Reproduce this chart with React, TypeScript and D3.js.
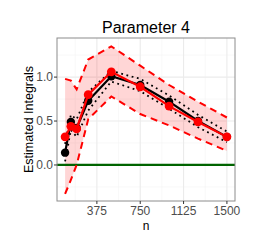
import * as d3 from "d3";

// sample sizes on the x axis
const nValues = [100, 150, 200, 300, 500, 750, 1000, 1250, 1500];
// black estimate + its dotted band
const blackEst = [0.14, 0.49, 0.42, 0.73, 1.01, 0.91, 0.72, 0.5, 0.32];
const blackUpper = [0.24, 0.57, 0.52, 0.83, 1.07, 0.98, 0.79, 0.57, 0.38];
const blackLower = [0.04, 0.4, 0.32, 0.62, 0.95, 0.84, 0.64, 0.43, 0.26];
// red estimate + its dashed band
const redEst = [0.32, 0.44, 0.41, 0.8, 1.06, 0.89, 0.67, 0.49, 0.32];
const redUpper = [0.98, 0.96, 0.86, 1.2, 1.35, 1.13, 0.91, 0.72, 0.54];
const redLower = [-0.33, -0.17, 0.0, 0.52, 0.78, 0.58, 0.45, 0.3, 0.16];

const xTicks = [375, 750, 1125, 1500];
const yTicks = [0, 0.5, 1];
const refLine = 0;

const W = 266;
const H = 252;
const panel = { left: 57, right: 235, top: 38, bottom: 201 };
const font = "'Liberation Sans', Arial, sans-serif";

export default function App() {
  const x = d3.scaleLinear().domain([30, 1570]).range([panel.left, panel.right]);
  const y = d3.scaleLinear().domain([-0.41, 1.445]).range([panel.bottom, panel.top]);

  const pts = (vals: number[]) => vals.map((v, i) => [nValues[i], v] as [number, number]);
  const line = d3
    .line<[number, number]>()
    .x((d) => x(d[0]))
    .y((d) => y(d[1]));
  const band = d3
    .area<number>()
    .x((_, i) => x(nValues[i]))
    .y0((_, i) => y(redLower[i]))
    .y1((d) => y(d));

  const xMinor = [0, ...xTicks].slice(0, -1).map((t, i) => (t + xTicks[i]) / 2);
  const yMinor = [-0.5, ...yTicks].map((t, i) => (i < yTicks.length ? (t + yTicks[i]) / 2 : t + 0.25));

  return (
    <svg
      width={W}
      height={H}
      style={{ position: "absolute", left: 0, top: 0, background: "#fff" }}
      fontFamily={font}
    >
      <defs>
        <clipPath id="panel-clip">
          <rect x={panel.left} y={panel.top} width={panel.right - panel.left} height={panel.bottom - panel.top} />
        </clipPath>
      </defs>
      <rect x={panel.left} y={panel.top} width={panel.right - panel.left} height={panel.bottom - panel.top} fill="#fff" />

      {/* grid */}
      <g stroke="#f3f3f3" strokeWidth={0.6}>
        {xMinor.map((t) => (
          <line key={"xm" + t} x1={x(t)} x2={x(t)} y1={panel.top} y2={panel.bottom} />
        ))}
        {yMinor.map((t) => (
          <line key={"ym" + t} x1={panel.left} x2={panel.right} y1={y(t)} y2={y(t)} />
        ))}
      </g>
      <g stroke="#ebebeb" strokeWidth={1.1}>
        {xTicks.map((t) => (
          <line key={"xg" + t} x1={x(t)} x2={x(t)} y1={panel.top} y2={panel.bottom} />
        ))}
        {yTicks.map((t) => (
          <line key={"yg" + t} x1={panel.left} x2={panel.right} y1={y(t)} y2={y(t)} />
        ))}
      </g>

      <g clipPath="url(#panel-clip)">
        <path d={band(redUpper) || ""} fill="rgba(255,0,0,0.16)" />
        <line x1={panel.left} x2={panel.right} y1={y(refLine)} y2={y(refLine)} stroke="#006400" strokeWidth={2.2} />
        <path d={line(pts(redUpper)) || ""} fill="none" stroke="#ff0000" strokeWidth={2} strokeDasharray="7,5" />
        <path d={line(pts(redLower)) || ""} fill="none" stroke="#ff0000" strokeWidth={2} strokeDasharray="7,5" />
        <path d={line(pts(blackUpper)) || ""} fill="none" stroke="#000" strokeWidth={1.8} strokeDasharray="1.8,3.6" />
        <path d={line(pts(blackLower)) || ""} fill="none" stroke="#000" strokeWidth={1.8} strokeDasharray="1.8,3.6" />
        <path d={line(pts(blackEst)) || ""} fill="none" stroke="#000" strokeWidth={2.2} />
        {blackEst.map((v, i) => (
          <circle key={"b" + i} cx={x(nValues[i])} cy={y(v)} r={4.2} fill="#000" />
        ))}
        <path d={line(pts(redEst)) || ""} fill="none" stroke="#ff0000" strokeWidth={2.2} />
        {redEst.map((v, i) => (
          <circle key={"r" + i} cx={x(nValues[i])} cy={y(v)} r={4.4} fill="#ff0000" />
        ))}
      </g>

      <rect
        x={panel.left}
        y={panel.top}
        width={panel.right - panel.left}
        height={panel.bottom - panel.top}
        fill="none"
        stroke="#8c8c8c"
        strokeWidth={1}
      />

      {/* axes */}
      <g stroke="#333" strokeWidth={1}>
        {xTicks.map((t) => (
          <line key={"xt" + t} x1={x(t)} x2={x(t)} y1={panel.bottom} y2={panel.bottom + 3} />
        ))}
        {yTicks.map((t) => (
          <line key={"yt" + t} x1={panel.left - 3} x2={panel.left} y1={y(t)} y2={y(t)} />
        ))}
      </g>
      <g fontSize={12} fill="#4d4d4d">
        {xTicks.map((t) => (
          <text key={"xl" + t} x={x(t)} y={215} textAnchor="middle">
            {t}
          </text>
        ))}
        {yTicks.map((t) => (
          <text key={"yl" + t} x={panel.left - 4} y={y(t) + 4.3} textAnchor="end">
            {d3.format(".1f")(t)}
          </text>
        ))}
      </g>

      <text x={(panel.left + panel.right) / 2} y={229.5} textAnchor="middle" fontSize={12} fill="#000">
        n
      </text>
      <text
        transform={`translate(32.5,${(panel.top + panel.bottom) / 2}) rotate(-90)`}
        textAnchor="middle"
        fontSize={12.5}
        fill="#000"
      >
        Estimated Integrals
      </text>
      <text x={(panel.left + panel.right) / 2} y={33} textAnchor="middle" fontSize={16} fill="#000">
        Parameter 4
      </text>
    </svg>
  );
}
